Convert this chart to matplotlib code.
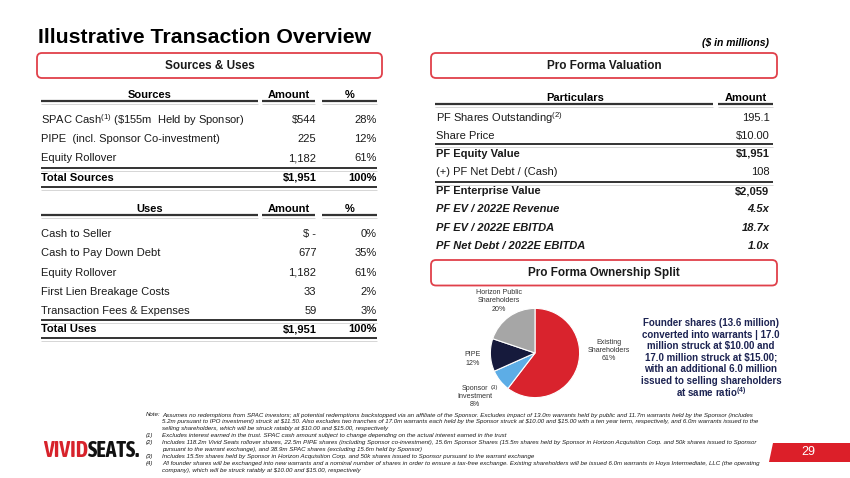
import matplotlib
matplotlib.use("Agg")
import matplotlib.pyplot as plt
from matplotlib import font_manager
from matplotlib.patches import FancyBboxPatch, Polygon

plt.rcParams["font.family"] = ["Liberation Sans", "DejaVu Sans"]
plt.rcParams["mathtext.fontset"] = "custom"
plt.rcParams["mathtext.rm"] = "Liberation Sans"
plt.rcParams["mathtext.it"] = "Liberation Sans:italic"
plt.rcParams["mathtext.bf"] = "Liberation Sans:bold"

RED = "#d9232d"
NAVY = "#1c2352"
TXT = "#1a1a1a"

# ---- data ----
source_items = ["SPAC Cash$^{(1)}$ (\\$155m  Held by Sponsor)",
                "PIPE  (incl. Sponsor Co-investment)",
                "Equity Rollover"]
source_amounts = ["$544", "225", "1,182"]
source_pcts = ["28%", "12%", "61%"]
source_total = ["Total Sources", "$1,951", "100%"]

use_items = ["Cash to Seller", "Cash to Pay Down Debt", "Equity Rollover",
             "First Lien Breakage Costs", "Transaction Fees & Expenses"]
use_amounts = ["$ -", "677", "1,182", "33", "59"]
use_pcts = ["0%", "35%", "61%", "2%", "3%"]
use_total = ["Total Uses", "$1,951", "100%"]

val_items = ["PF Shares Outstanding$^{(2)}$", "Share Price", "PF Equity Value",
             "(+) PF Net Debt / (Cash)", "PF Enterprise Value",
             "PF EV / 2022E Revenue", "PF EV / 2022E EBITDA",
             "PF Net Debt / 2022E EBITDA"]
val_amounts = ["195.1", "$10.00", "$1,951", "108", "$2,059", "4.5x", "18.7x", "1.0x"]

owner_labels = ["Existing\nShareholders", "Sponsor\nInvestment", "PIPE",
                "Horizon Public\nShareholders"]
owner_pcts = [61, 8, 12, 20]
owner_colors = [RED, "#5dade6", "#161a3c", "#a6a6a6"]

founder_note = ["Founder shares (13.6 million)",
                "converted into warrants | 17.0",
                "million struck at $10.00 and",
                "17.0 million struck at $15.00;",
                "with an additional 6.0 million",
                "issued to selling shareholders",
                "at same ratio$^{\\mathbf{(4)}}$"]

notes = [
    ("Note:", "Assumes no redemptions from SPAC investors; all potential redemptions backstopped via an affiliate of the Sponsor. Excludes impact of 13.0m warrants held by public and 11.7m warrants held by the Sponsor (includes"),
    ("", "5.2m pursuant to IPO investment) struck at $11.50. Also excludes two tranches of 17.0m warrants each held by the Sponsor struck at $10.00 and $15.00 with a ten year term, respectively, and 6.0m warrants issued to the"),
    ("", "selling shareholders, which will be struck ratably at $10.00 and $15.00, respectively"),
    ("(1)", "Excludes interest earned in the trust. SPAC cash amount subject to change depending on the actual interest earned in the trust"),
    ("(2)", "Includes 118.2m Vivid Seats rollover shares, 22.5m PIPE shares (including Sponsor co-investment), 15.6m Sponsor Shares (15.5m shares held by Sponsor in Horizon Acquisition Corp. and 50k shares issued to Sponsor"),
    ("", "pursuant to the warrant exchange), and 38.9m SPAC shares (excluding 15.6m held by Sponsor)"),
    ("(3)", "Includes 15.5m shares held by Sponsor in Horizon Acquisition Corp. and 50k shares issued to Sponsor pursuant to the warrant exchange"),
    ("(4)", "All founder shares will be exchanged into new warrants and a nominal number of shares in order to ensure a tax-free exchange. Existing shareholders will be issued 6.0m warrants in Hoya Intermediate, LLC (the operating"),
    ("", "company), which will be struck ratably at $10.00 and $15.00, respectively"),
]

fig = plt.figure(figsize=(8.5, 4.78), dpi=100)
ax = fig.add_axes([0, 0, 1, 1])
ax.set_xlim(0, 850)
ax.set_ylim(478, 0)
ax.axis("off")
ax.patch.set_alpha(0)


def rule(x0, x1, y, lw=1.4):
    ax.plot([x0, x1], [y, y], color="#333333", lw=lw, solid_capstyle="butt")
    ax.plot([x0, x1], [y + 3, y + 3], color="#d6d6d6", lw=0.7, solid_capstyle="butt")


def section_box(x0, x1, y0, y1, title):
    ax.add_patch(FancyBboxPatch((x0, y0), x1 - x0, y1 - y0,
                                boxstyle="round,pad=0,rounding_size=5",
                                fc="white", ec="#e0404a", lw=1.3))
    ax.text((x0 + x1) / 2, (y0 + y1) / 2 + 0.5, title, ha="center", va="center",
            fontsize=8.5, fontweight="bold", color=TXT)


# title
ax.text(38, 37.5, "Illustrative Transaction Overview", fontsize=15.3,
        fontweight="bold", color="black", va="center", ha="left")
ax.text(769, 43, "($ in millions)", fontsize=7.5, fontweight="bold",
        style="italic", ha="right", va="center", parse_math=False)

section_box(37, 382, 53, 78, "Sources & Uses")
section_box(431, 777, 53, 78, "Pro Forma Valuation")
section_box(431, 777, 260, 285.5, "Pro Forma Ownership Split")

FS = 8


def su_table(y_head, header, items, amounts, pcts, total, y_rows, y_total):
    ax.text(149.5, y_head, header, ha="center", va="center", fontsize=FS, fontweight="bold")
    ax.text(289, y_head, "Amount", ha="center", va="center", fontsize=FS, fontweight="bold")
    ax.text(349.5, y_head, "%", ha="center", va="center", fontsize=FS, fontweight="bold")
    yl = y_head + 6
    rule(41.5, 258.5, yl, lw=1.6)
    rule(262.5, 315.5, yl, lw=1.6)
    rule(322.5, 377, yl, lw=1.6)
    for y, lab, amt, pct in zip(y_rows, items, amounts, pcts):
        ax.text(41.5, y, lab, ha="left", va="center", fontsize=FS, color=TXT)
        ax.text(316.5, y, amt, ha="right", va="center", fontsize=FS, color=TXT, parse_math=False)
        ax.text(376.5, y, pct, ha="right", va="center", fontsize=FS, color=TXT)
    rule(41.5, 377, y_total - 9.5)
    ax.text(41.5, y_total, total[0], ha="left", va="center", fontsize=FS, fontweight="bold")
    ax.text(316.5, y_total, total[1], ha="right", va="center", fontsize=FS, fontweight="bold", parse_math=False)
    ax.text(376.5, y_total, total[2], ha="right", va="center", fontsize=FS, fontweight="bold")
    rule(41.5, 377, y_total + 9)


su_table(95, "Sources", source_items, source_amounts, source_pcts, source_total,
         [120, 138.5, 158.3], 177.7)
su_table(209.3, "Uses", use_items, use_amounts, use_pcts, use_total,
         [234.3, 253.3, 272.7, 291.7, 310.7], 329.3)

# valuation table
ax.text(575, 97.7, "Particulars", ha="center", va="center", fontsize=FS, fontweight="bold")
ax.text(746, 97.7, "Amount", ha="center", va="center", fontsize=FS, fontweight="bold")
rule(435, 713, 103.5, lw=1.6)
rule(718, 773, 103.5, lw=1.6)
val_y = [118.3, 135.7, 154, 172.3, 191, 209, 227.7, 245.7]
for i, (y, lab, amt) in enumerate(zip(val_y, val_items, val_amounts)):
    weight = "bold" if i in (2, 4, 5, 6, 7) else "normal"
    style = "italic" if i >= 5 else "normal"
    ax.text(436, y, lab, ha="left", va="center", fontsize=FS, fontweight=weight,
            style=style, color=TXT)
    ax.text(769.5, y, amt, ha="right", va="center", fontsize=FS, fontweight=weight,
            style=style, color=TXT, parse_math=False)
rule(435, 773, 144.3)
rule(435, 773, 181.7)

# ownership pie
cx, cy, r = 535, 353, 45.5
pax = fig.add_axes([(cx - r) / 850, 1 - (cy + r) / 478, 2 * r / 850, 2 * r / 478])
pax.pie(owner_pcts, colors=owner_colors, startangle=90, counterclock=False,
        wedgeprops=dict(edgecolor="white", linewidth=0.8))
pax.set_xlim(-1.02, 1.02)
pax.set_ylim(-1.02, 1.02)
pax.set_aspect("auto")
pax.axis("off")

PFS = 5.1
label_pos = [(609, 350.5), (474.5, 396.5), (472.7, 359), (499, 301)]
for (x, y), lab, pct in zip(label_pos, owner_labels, owner_pcts):
    ax.text(x, y, f"{lab}\n{pct}%", ha="center", va="center", fontsize=PFS,
            color="#333333", linespacing=1.3)
ax.text(494.5, 387.5, "(3)", ha="center", va="center", fontsize=4.3, color="#333333")

for i, line in enumerate(founder_note):
    ax.text(711, 323 + i * 11.55, line, ha="center", va="center", fontsize=7.0,
            fontweight="bold", color=NAVY)

# footnotes
for i, (tag, line) in enumerate(notes):
    y = 415 + i * 6.95
    if tag:
        ax.text(145.7, y, tag, ha="left", va="center", fontsize=4.45, style="italic",
                color=TXT, parse_math=False)
    ax.text(162.3, y, line, ha="left", va="center", fontsize=4.45, style="italic",
            color=TXT, parse_math=False)


# logo: prefer a bold narrow face, then size it to the logo's width on the slide
def heavy(w):
    if isinstance(w, (int, float)):
        return w >= 600
    return str(w).lower() in ("bold", "semibold", "demibold", "extra bold", "heavy", "black")


narrow_bold = sorted({f.name for f in font_manager.fontManager.ttflist
                      if any(k in f.name for k in ("Narrow", "Condensed", "Compressed"))
                      and heavy(f.weight)})
logo_family = narrow_bold[0] if narrow_bold else "Liberation Sans"
renderer = fig.canvas.get_renderer()
logo_kw = dict(va="center", fontweight="bold", family=logo_family)
t1 = ax.text(42.7, 451, "VIVID", ha="left", color="#d7222b", fontsize=20, **logo_kw)
t2 = ax.text(0, 451, "SEATS.", ha="left", color="#111111", fontsize=20, **logo_kw)
w = t1.get_window_extent(renderer).width + t2.get_window_extent(renderer).width
fs = 20 * 97 / w
t1.set_fontsize(fs)
t2.set_fontsize(fs)
t2.set_x(t1.get_window_extent(renderer).x1)

# page number tab
ax.add_patch(Polygon([(773, 442.5), (850, 442.5), (850, 461.5), (769, 461.5)],
                     closed=True, fc="#dc1f29", ec="none"))
ax.text(808, 452, "29", ha="center", va="center", fontsize=9, color="white")

fig.savefig("out.png", dpi=100)
